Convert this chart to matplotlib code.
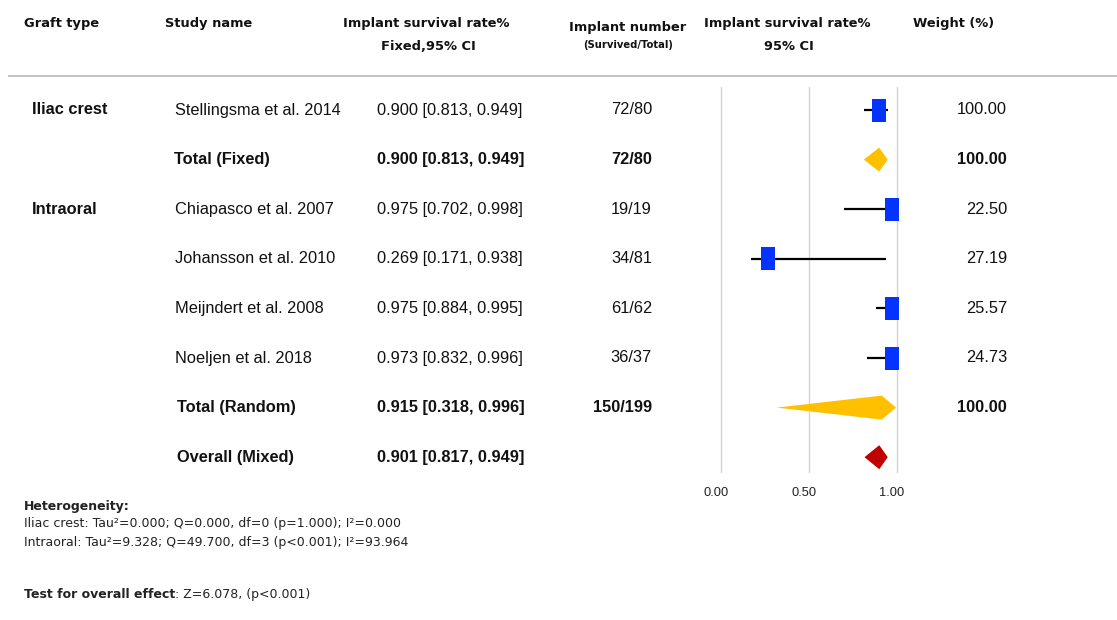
import matplotlib
matplotlib.use("Agg")
import matplotlib.pyplot as plt
from matplotlib.patches import Rectangle, Polygon
from matplotlib.transforms import ScaledTranslation

# ---- data ----
graft_types = ["Iliac crest", "Intraoral"]
studies = ["Stellingsma et al. 2014", "Chiapasco et al. 2007", "Johansson et al. 2010",
           "Meijndert et al. 2008", "Noeljen et al. 2018"]
study_group = ["Iliac crest", "Intraoral", "Intraoral", "Intraoral", "Intraoral"]
est = [0.900, 0.975, 0.269, 0.975, 0.973]
ci_low = [0.813, 0.702, 0.171, 0.884, 0.832]
ci_high = [0.949, 0.998, 0.938, 0.995, 0.996]
survived = [72, 19, 34, 61, 36]
total = [80, 19, 81, 62, 37]
weights = [100.00, 22.50, 27.19, 25.57, 24.73]

summary_labels = ["Total (Fixed)", "Total (Random)", "Overall (Mixed)"]
summary_est = [0.900, 0.915, 0.901]
summary_low = [0.813, 0.318, 0.817]
summary_high = [0.949, 0.996, 0.949]
summary_n = ["72/80", "150/199", ""]
summary_weight = ["100.00", "100.00", ""]

x_ticks = [0.0, 0.5, 1.0]
x_ticklabels = ["0.00", "0.50", "1.00"]

heterogeneity = [
    "Iliac crest: Tau\u00b2=0.000; Q=0.000, df=0 (p=1.000); I\u00b2=0.000",
    "Intraoral: Tau\u00b2=9.328; Q=49.700, df=3 (p<0.001); I\u00b2=93.964",
]
overall_effect = ": Z=6.078, (p<0.001)"

# ---- layout (pixels) ----
W, H = 1117, 620
row0, drow = 110, 49.6
# row order: study 0, Total (Fixed), studies 1-4, Total (Random), Overall
rows = [("study", 0), ("summary", 0), ("study", 1), ("study", 2), ("study", 3),
        ("study", 4), ("summary", 1), ("summary", 2)]
row_y = [row0 + i * drow for i in range(len(rows))]

BLUE = "#0433FF"
GOLD = "#FFC000"
RED = "#C00000"
DATA_FONT = "Liberation Sans"
HEAD_FONT = "DejaVu Sans"

fig = plt.figure(figsize=(W / 100, H / 100), dpi=100)
fig.patch.set_facecolor("white")

tx = fig.add_axes([0, 0, 1, 1])
tx.set_xlim(0, W)
tx.set_ylim(H, 0)
tx.axis("off")

# header
hkw = dict(fontfamily=HEAD_FONT, fontweight="bold", fontsize=9.4, va="center", color="#111111")
tx.text(24, 23, "Graft type", ha="left", **hkw)
tx.text(165, 23, "Study name", ha="left", **hkw)
tx.text(426, 23, "Implant survival rate%", ha="center", **hkw)
tx.text(428, 46, "Fixed,95% CI", ha="center", **hkw)
tx.text(628, 27, "Implant number", ha="center", **hkw)
tx.text(628, 45, "(Survived/Total)", ha="center", fontfamily=HEAD_FONT, fontweight="bold",
        fontsize=7.2, va="center", color="#111111")
tx.text(787, 23, "Implant survival rate%", ha="center", **hkw)
tx.text(789, 46, "95% CI", ha="center", **hkw)
tx.text(954, 23, "Weight (%)", ha="center", **hkw)
tx.plot([8, W], [76, 76], color="#BDBDBD", lw=1.3, solid_capstyle="butt")

# table body
fs = 11.8
for (kind, k), y in zip(rows, row_y):
    if kind == "study":
        bold = "normal"
        name = studies[k]
        ci_txt = f"{est[k]:.3f} [{ci_low[k]:.3f}, {ci_high[k]:.3f}]"
        n_txt = f"{survived[k]}/{total[k]}"
        w_txt = f"{weights[k]:.2f}"
        name_x = 175
    else:
        bold = "bold"
        name = summary_labels[k]
        ci_txt = f"{summary_est[k]:.3f} [{summary_low[k]:.3f}, {summary_high[k]:.3f}]"
        n_txt = summary_n[k]
        w_txt = summary_weight[k]
        name_x = 174 if k == 0 else 177
    kw = dict(fontfamily=DATA_FONT, fontsize=fs, fontweight=bold, va="center", color="#111111")
    tx.text(name_x, y, name, ha="left", **kw)
    tx.text(377, y, ci_txt, ha="left", **kw)
    tx.text(652, y, n_txt, ha="right", **kw)
    tx.text(1007, y, w_txt, ha="right", **kw)

# graft type labels at first row of each group
for g in graft_types:
    first = study_group.index(g)
    i = rows.index(("study", first))
    tx.text(32, row_y[i], g, ha="left", va="center", fontfamily=DATA_FONT,
            fontsize=fs, fontweight="bold", color="#111111")

# footer
fkw = dict(fontfamily=HEAD_FONT, fontsize=9.0, ha="left", va="baseline", color="#222222")
tx.text(24, 510, "Heterogeneity:", fontweight="bold", **fkw)
tx.text(24, 527, heterogeneity[0], **fkw)
tx.text(24, 546, heterogeneity[1], **fkw)
t_bold = tx.text(24, 598, "Test for overall effect", fontweight="bold", **fkw)
tx.annotate(overall_effect, xy=(1, 598), xycoords=(t_bold, "data"), **fkw)

# ---- forest plot ----
x0_px, unit_px = 720.7, 176.0
ax_left, ax_right = 700, 920
ax_top, ax_bot = 87, 473
fx = fig.add_axes([ax_left / W, (H - ax_bot) / H, (ax_right - ax_left) / W, (ax_bot - ax_top) / H])
fx.set_xlim((ax_left - x0_px) / unit_px, (ax_right - x0_px) / unit_px)
fx.set_ylim((ax_bot - row0) / drow, (ax_top - row0) / drow)
fx.patch.set_visible(False)
for s in fx.spines.values():
    s.set_visible(False)
fx.set_yticks([])
fx.set_xticks(x_ticks)
fx.set_xticklabels(x_ticklabels, fontfamily=DATA_FONT, fontsize=9.3)
fx.tick_params(axis="x", length=0, pad=10, colors="#222222")
for lab in fx.get_xticklabels():
    lab.set_transform(lab.get_transform() + ScaledTranslation(-5 / 100, 0, fig.dpi_scale_trans))
for xt in x_ticks:
    fx.axvline(xt, color="#D3D3D3", lw=1.0, zorder=0)

sq_w = 14 / unit_px
sq_h = 23 / drow
dia_h = 24 / drow
summary_colors = [GOLD, GOLD, RED]
for i, (kind, k) in enumerate(rows):
    y = i
    if kind == "study":
        fx.plot([ci_low[k], ci_high[k]], [y, y], color="black", lw=1.6, zorder=2,
                solid_capstyle="butt")
        fx.add_patch(Rectangle((est[k] - sq_w / 2, y - sq_h / 2), sq_w, sq_h,
                               facecolor=BLUE, edgecolor="none", zorder=3))
    else:
        pts = [(summary_low[k], y), (summary_est[k], y - dia_h / 2),
               (summary_high[k], y), (summary_est[k], y + dia_h / 2)]
        fx.add_patch(Polygon(pts, closed=True, facecolor=summary_colors[k],
                             edgecolor="none", zorder=3))

fig.savefig("out.png", dpi=100, facecolor="white")
